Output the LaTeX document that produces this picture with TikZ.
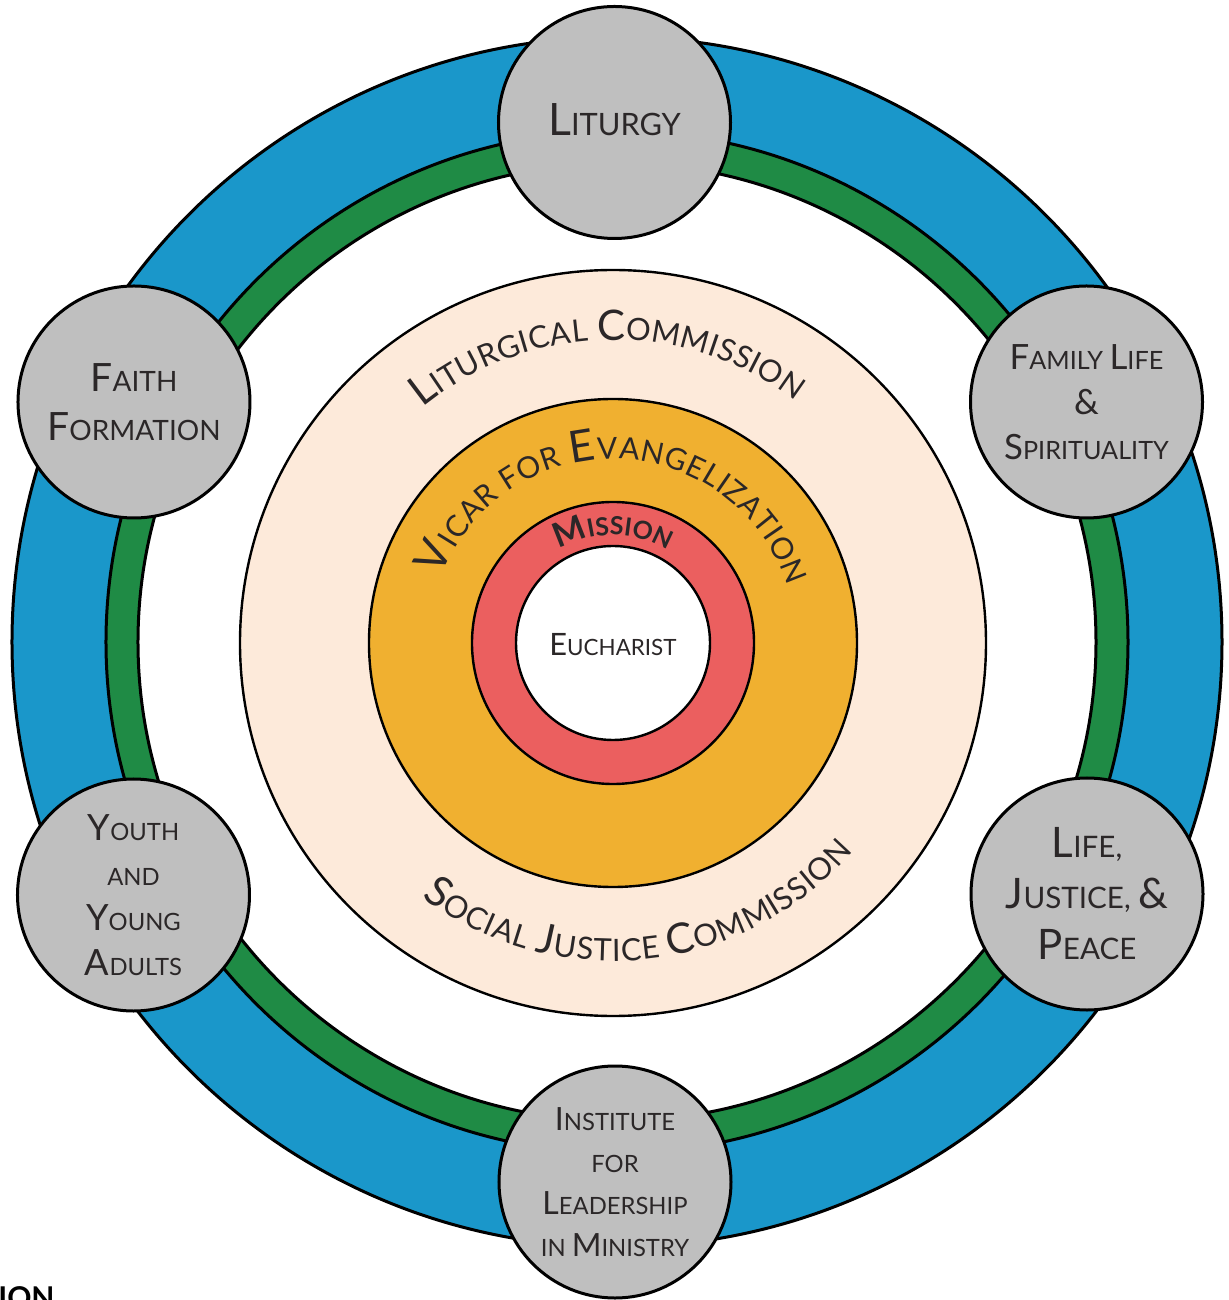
\documentclass[tikz,border=0pt]{standalone}
\usepackage{fontspec}
\setmainfont{Lato}
\usetikzlibrary{decorations.text}
\definecolor{ringblue}{HTML}{1A97CA}
\definecolor{ringgreen}{HTML}{1F8B45}
\definecolor{peach}{HTML}{FDEADA}
\definecolor{vicar}{HTML}{F0B030}
\definecolor{mission}{HTML}{EB5F5F}
\definecolor{satgray}{HTML}{BFBFBF}
\definecolor{txt}{HTML}{2B2728}
\def\bsz{20pt}\def\ssz{14pt}
\newcommand\Kap[1]{{\fontsize{\bsz}{\bsz}\selectfont #1}}
\newcommand\Klein[1]{{\fontsize{\ssz}{\ssz}\selectfont #1}}
\newcommand\KapF{\fontsize{\bsz}{\bsz}\selectfont}
\newcommand\KleinF{\fontsize{\ssz}{\ssz}\selectfont}
\begin{document}
\begin{tikzpicture}[x=0.5pt,y=0.5pt,
  sat/.style={circle, draw=black, line width=1.5pt, fill=satgray, minimum size=116pt,
    inner sep=0pt, align=center, text=txt},
  sz/.style n args={3}{font={\def\bsz{#1}\def\ssz{#2}\fontsize{#2}{#3}\selectfont}},
  ringline/.style={draw=black, line width=1.2pt},
  outerline/.style={draw=black, line width=1.5pt}]
\useasboundingbox (-613,643) rectangle (615,-657);
\fill[white] (-613,643) rectangle (615,-657);
\coordinate (oc) at (4,1);
\coordinate (ic) at (0,0);
% outer rings
\draw[outerline, fill=ringblue] (oc) circle[radius=605];
\draw[outerline, fill=ringgreen] (oc) circle[radius=511];
\draw[outerline, fill=white] (oc) circle[radius=479];
% inner rings
\draw[ringline, fill=peach] (ic) circle[radius=373];
\draw[ringline, fill=vicar] (ic) circle[radius=244];
\draw[ringline, fill=mission] (ic) circle[radius=141];
\draw[ringline, fill=white] (ic) circle[radius=97];
% curved texts
\def\bsz{21pt}\def\ssz{15.4pt}
\path[decorate, decoration={text along path, text color=txt, text align={fit to path},
  text={|\KapF|L|\KleinF|ITURGICAL |\KapF|C|\KleinF|OMMISSION}}]
  (129:303) arc[start angle=129, end angle=53, radius=303];
\path[decorate, decoration={text along path, text color=txt, text align={fit to path},
  text={|\KapF|S|\KleinF|OCIAL |\KapF|J|\KleinF|USTICE |\KapF|C|\KleinF|OMMISSION}}]
  (233:318) arc[start angle=233, end angle=319, radius=318];
\def\bsz{22pt}\def\ssz{15pt}
\path[decorate, decoration={text along path, text color=txt, text align={fit to path},
  text={|\KapF|V|\KleinF|ICAR FOR |\KapF|E|\KleinF|VANGELIZATION}}]
  (159:184) arc[start angle=159, end angle=18, radius=184];
\def\bsz{17pt}\def\ssz{12.5pt}
\path[decorate, decoration={text along path, text color=txt, text align={fit to path},
  text={|\bfseries\KapF|M|\bfseries\KleinF|ISSION}}]
  (120:108) arc[start angle=120, end angle=60, radius=108];
% center
\node[sz={15.4pt}{11.2pt}{14pt}, text=txt, inner sep=0pt] (euch) at (0,-2) {\Kap{E}\Klein{UCHARIST}};
% satellites
\node[sat, sz={22.3pt}{15.4pt}{20pt}] (lit) at (1.5,520.5) {\raisebox{3pt}{\Kap{L}\Klein{ITURGY}}};
\node[sat, sz={17.4pt}{12.6pt}{22.5pt}] (fam) at (473.5,241)
  {\Kap{F}\Klein{AMILY} \Kap{L}\Klein{IFE}\\\Kap{\&}\\\Kap{S}\Klein{PIRITUALITY}};
\node[sat, sz={21pt}{14.8pt}{25.5pt}] (lif) at (474,-251)
  {\Kap{L}\Klein{IFE,}\\\Kap{J}\Klein{USTICE,} \Kap{\&}\\\Kap{P}\Klein{EACE}};
\node[sat, sz={16pt}{11.9pt}{21pt}] (ins) at (2,-539)
  {\Kap{I}\Klein{NSTITUTE}\\\Klein{FOR}\\\Kap{L}\Klein{EADERSHIP}\\\Klein{IN} \Kap{M}\Klein{INISTRY}};
\node[sat, sz={18.1pt}{11.9pt}{22.5pt}] (you) at (-479.5,-252)
  {\Kap{Y}\Klein{OUTH}\\\Klein{AND}\\\Kap{Y}\Klein{OUNG}\\\Kap{A}\Klein{DULTS}};
\node[sat, sz={19.5pt}{14pt}{24.5pt}] (fai) at (-479,241)
  {\Kap{F}\Klein{AITH}\\\Kap{F}\Klein{ORMATION}};
% cut-off text at bottom left
\node[anchor=north east, inner sep=0pt, font=\bfseries\fontsize{15pt}{15pt}\selectfont] (ion) at (-558,-643) {ION};
\end{tikzpicture}
\end{document}
